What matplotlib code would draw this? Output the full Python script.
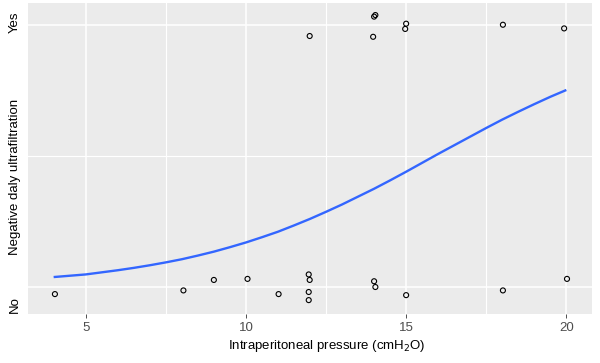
import matplotlib
matplotlib.use("Agg")
import matplotlib.pyplot as plt
import numpy as np

plt.rcParams['font.family'] = ['Liberation Sans', 'DejaVu Sans']

# Jittered observations (x pressure, y outcome 0=No/1=Yes with jitter)
yes_x = [11.99, 13.97, 14.0, 14.04, 14.97, 15.0, 18.02, 19.93]
yes_y = [0.958, 0.955, 1.032, 1.038, 0.985, 1.005, 1.001, 0.987]
no_x = [4.04, 8.05, 9.0, 10.05, 11.02, 11.96, 11.99, 11.96, 11.96, 14.0, 14.04, 15.0, 18.02, 20.02]
no_y = [-0.027, -0.013, 0.027, 0.031, -0.027, 0.048, 0.027, -0.019, -0.050, 0.022, 0.0, -0.031, -0.013, 0.031]

# Fitted curve
curve_x = [4, 4.5, 5, 5.5, 6, 6.5, 7, 7.5, 8, 8.5, 9, 9.5, 10, 10.5, 11, 11.5, 12,
           12.5, 13, 13.5, 14, 14.5, 15, 15.5, 16, 16.5, 17, 17.5, 18, 18.5, 19, 19.5, 20]
curve_y = [0.038, 0.043, 0.048, 0.056, 0.064, 0.073, 0.083, 0.094, 0.106, 0.120, 0.135, 0.152,
           0.170, 0.190, 0.211, 0.235, 0.260, 0.287, 0.315, 0.345, 0.375, 0.407, 0.440, 0.474,
           0.508, 0.541, 0.574, 0.607, 0.639, 0.669, 0.698, 0.726, 0.752]

x_ticks = [5, 10, 15, 20]
y_ticks = [0, 1]
y_labels = ["No", "Yes"]

fig = plt.figure(figsize=(6.0, 3.63), dpi=100)
W, H = 600, 363
ax = fig.add_axes([28 / W, 1 - 314 / H, (592 - 28) / W, (314 - 3) / H])
ax.set_facecolor('#EBEBEB')
for s in ax.spines.values():
    s.set_visible(False)

ax.set_xlim(3.2, 20.8)
ax.set_ylim(-0.103, 1.084)

# grid
for xv in [7.5, 12.5, 17.5]:
    ax.axvline(xv, color='white', lw=0.8, zorder=0.5)
ax.axhline(0.5, color='white', lw=0.8, zorder=0.5)
for xv in x_ticks:
    ax.axvline(xv, color='white', lw=1.1, zorder=0.6)
for yv in y_ticks:
    ax.axhline(yv, color='white', lw=1.1, zorder=0.6)

ax.plot(curve_x, curve_y, color='#3366FF', lw=1.7, zorder=2, solid_capstyle='butt')
ax.scatter(yes_x + no_x, yes_y + no_y, s=13, facecolors='none', edgecolors='black', linewidths=0.8, zorder=3)

ax.set_xticks(x_ticks)
ax.set_xticklabels([str(v) for v in x_ticks], color='#4D4D4D', fontsize=9.5)
ax.set_yticks(y_ticks)
ax.set_yticklabels([])
ax.tick_params(axis='x', length=3, width=0.6, color='#333333', pad=2.5)
ax.tick_params(axis='y', length=0)

# y category labels placed as in reference
fig.text(14.5 / W, 1 - 22 / H, y_labels[1], rotation=90, ha='center', va='center', fontsize=9.5, color='black')
fig.text(14.5 / W, 1 - 305 / H, y_labels[0], rotation=90, ha='center', va='center', fontsize=9.5, color='black')

fig.text(327 / W, 1 - 346 / H, "Intraperitoneal pressure (cmH$_2$O)", ha='center', va='center', fontsize=9.5, color='black')
fig.text(15.5 / W, 1 - 177 / H, "Negative daly ultrafiltration", rotation=90, ha='center', va='center', fontsize=9.5, color='black')

fig.savefig("out.png", dpi=100)
